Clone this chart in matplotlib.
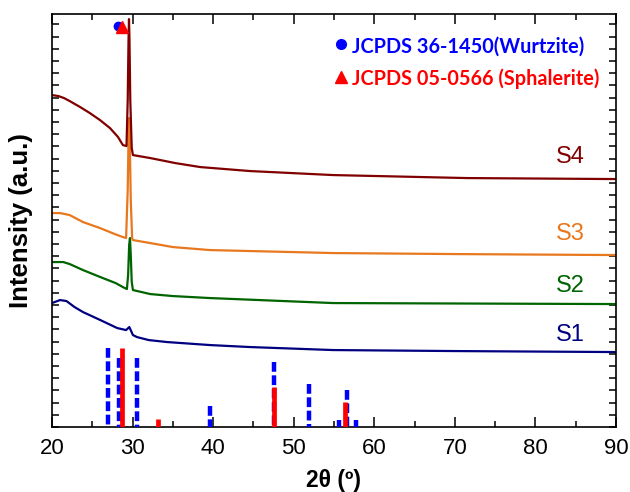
import matplotlib
matplotlib.use("Agg")
import matplotlib.pyplot as plt
from matplotlib.ticker import MultipleLocator

plt.rcParams['font.family'] = ['Liberation Sans', 'DejaVu Sans']

# XRD patterns (2theta in degrees, intensity in arbitrary units, offset per sample)
s1_tt = [20.0, 21.0, 21.8, 22.8, 23.85, 26.0, 28.1, 29.2, 29.6, 30.05, 30.55, 32.0, 34.3, 39.6, 44.6,
         54.9, 70.0, 90.0]
s1_int = [124, 127, 126, 120, 115, 107, 99, 97, 100, 92, 90, 87, 85, 82, 80, 77, 76, 75]

s2_tt = [20.0, 21.4, 22.2, 23.85, 26.0, 27.9, 28.8, 29.3, 29.45, 29.58, 29.68, 29.78, 29.9, 30.05,
         32.2, 35.0, 39.6, 54.9, 90.0]
s2_int = [165, 165, 163, 157, 150, 144, 140, 138, 152, 182, 189, 172, 145, 137, 133, 131, 129, 124, 123]

s3_tt = [20.0, 21.0, 22.2, 23.85, 25.96, 27.8, 28.8, 29.2, 29.4, 29.5, 29.58, 29.66, 29.78, 29.95,
         30.05, 32.2, 35.0, 39.6, 54.9, 70.0, 90.0]
s3_int = [214, 214, 212, 205, 199, 193, 190, 189, 237, 287, 309, 287, 227, 189, 187, 184, 180, 177,
          174, 173, 172]

s4_tt = [20.0, 20.8, 21.5, 22.2, 23.5, 24.7, 25.96, 27.2, 28.2, 28.8, 29.25, 29.4, 29.5, 29.56, 29.62,
         29.72, 29.9, 30.05, 32.2, 35.3, 38.4, 44.6, 54.9, 71.5, 90.0]
s4_int = [332, 331, 329, 326, 320, 314, 307, 299, 290, 282, 281, 327, 387, 408, 387, 327, 279, 272,
          269, 264, 260, 256, 252, 249, 248]

samples = ["S1", "S2", "S3", "S4"]
sample_colors = ["#000080", "#006400", "#E8781E", "#800000"]
label_y = [92, 141, 193, 270]

# reference patterns
wurtzite_tt = [26.9, 28.35, 30.6, 39.6, 47.6, 51.85, 55.65, 56.65, 57.75]
wurtzite_int = [79, 69, 69, 21, 65, 43, 7, 37, 7]
sphalerite_tt = [28.65, 33.2, 47.6, 56.35]
sphalerite_int = [79, 8, 40, 25]

fig = plt.figure(figsize=(6.3, 4.92), dpi=100)
ax = fig.add_axes([0.0825, 0.132, 0.8952, 0.8394])

curves = [(s1_tt, s1_int), (s2_tt, s2_int), (s3_tt, s3_int), (s4_tt, s4_int)]
for (tt, inten), name, col, ly in zip(curves, samples, sample_colors, label_y):
    ax.plot(tt, inten, color=col, lw=1.6)
    ax.text(84.3, ly, name, color=col, fontsize=17, ha='center', va='center')

ax.vlines(wurtzite_tt, wurtzite_int, 0, colors='#0000FF', lw=3.2,
          linestyles=(0, (2.2, 0.8)), zorder=3)
ax.vlines(sphalerite_tt, sphalerite_int, 0, colors='#FF0000', lw=3.4, zorder=4)

# phase markers on the main reflection
ax.plot([28.23], [401], 'o', color='#0000FF', ms=6, zorder=5)
ax.plot([28.7], [400], '^', color='#FF0000', ms=8, zorder=6)

# phase key
ax.plot([0.512], [0.927], 'o', color='#0000FF', ms=7, transform=ax.transAxes)
ax.plot([0.512], [0.847], '^', color='#FF0000', ms=8, transform=ax.transAxes)
ax.text(0.532, 0.921, "JCPDS 36-1450(Wurtzite)", color='#0000FF', fontsize=14.3,
        fontweight='bold', family='Lato', transform=ax.transAxes, va='center')
ax.text(0.532, 0.843, "JCPDS 05-0566 (Sphalerite)", color='#FF0000', fontsize=14.3,
        fontweight='bold', family='Lato', transform=ax.transAxes, va='center')

ax.set_xlim(20, 90)
ax.set_ylim(0, 413)
ax.xaxis.set_major_locator(MultipleLocator(10))
ax.xaxis.set_minor_locator(MultipleLocator(5))
ax.yaxis.set_major_locator(MultipleLocator(12.2))
ax.set_yticklabels([])
ax.tick_params(axis='both', which='both', direction='in', top=True, right=True, width=1.1)
ax.tick_params(axis='x', which='major', length=7, labelsize=16, pad=8)
ax.tick_params(axis='x', which='minor', length=4)
ax.tick_params(axis='y', which='major', length=5)
for sp in ax.spines.values():
    sp.set_linewidth(1.2)

ax.set_xlabel("2θ (º)", fontsize=16.5, fontweight='bold', labelpad=7)
ax.set_ylabel("Intensity (a.u.)", fontsize=18.5, fontweight='bold', labelpad=10)

fig.savefig("out.png", dpi=100)
